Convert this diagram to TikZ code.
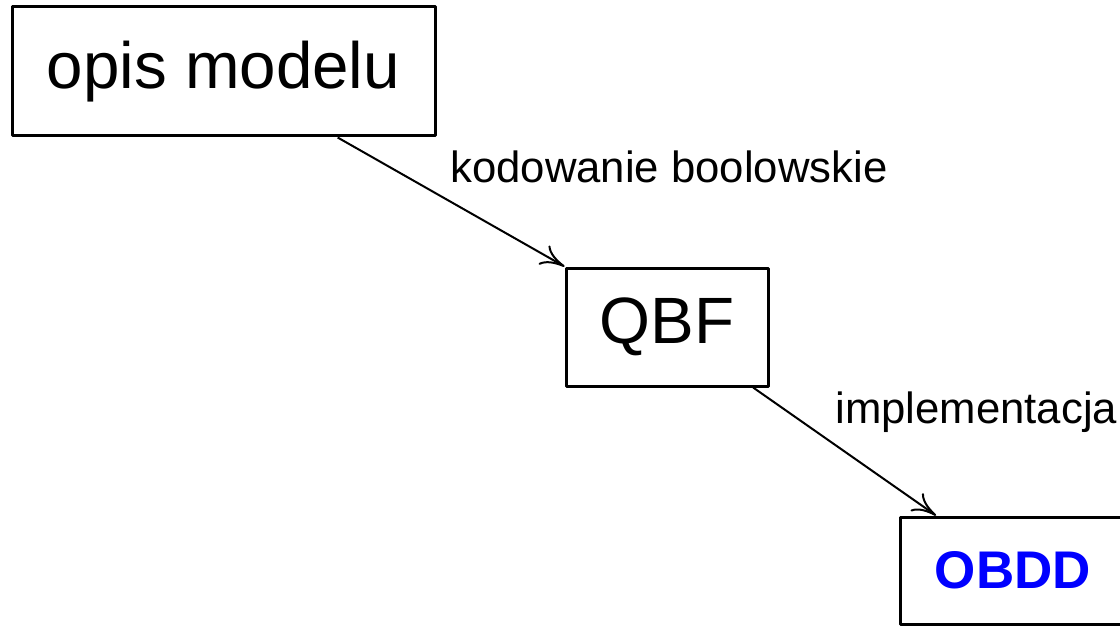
\documentclass[tikz,border=0pt]{standalone}
\usepackage{fontspec}
\setmainfont{Liberation Sans}
\usetikzlibrary{arrows.meta,positioning,calc}
\tikzstyle{Block} = [draw, rectangle, line width=1.5pt, line join=round, inner sep=0pt]
\tikzstyle{Text} = [inner sep=0pt, anchor=base west, font=\fontsize{21.85}{24}\selectfont]

\begin{document}
\begin{tikzpicture}[x=0.5pt,y=-0.5pt,>={Computer Modern Rightarrow[length=12pt,width=11pt]}]
    \useasboundingbox (0,0) rectangle (1120,626);
    \node[Block, minimum width=211.5pt, minimum height=64.5pt, font=\fontsize{32.75}{36}\selectfont] (model) at (223.5,71.5) {opis modelu};
    \node[Block, minimum width=101pt, minimum height=59pt, font=\fontsize{32.75}{36}\selectfont] (qbf) at (667,327) {QBF};
    \node[Block, minimum width=113pt, minimum height=53.5pt, font=\fontsize{26.5}{30}\selectfont\bfseries, text=blue] (obdd) at (1013,570.5) {OBDD};
    \node[Text] (l_coding) at (450,183) {kodowanie boolowskie};
    \node[Text] (l_impl)   at (835,423) {implementacja};
    \draw[->, line width=1pt] ($(model.south west)!0.768!(model.south east)$) -- (qbf.north west);
    \draw[->, line width=1pt] ($(qbf.south west)!0.92!(qbf.south east)$) -- ($(obdd.north west)!0.164!(obdd.north east)$);
  \end{tikzpicture}
\end{document}
